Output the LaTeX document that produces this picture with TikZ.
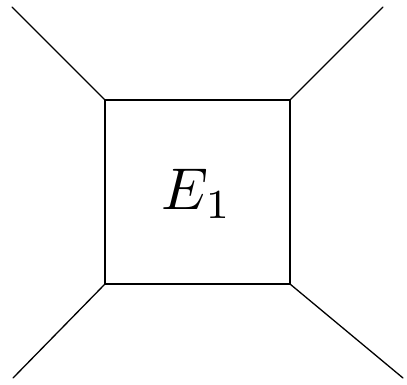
\documentclass[tikz,border=0pt]{standalone}
\begin{document}
\begin{tikzpicture}[x=1pt,y=-1pt,edge/.style={line width=1.3pt,line cap=round}]
\useasboundingbox (0,0) rectangle (407,384);
\coordinate (a) at (105,100);
\coordinate (b) at (290,100);
\coordinate (c) at (290,284);
\coordinate (d) at (105,284);
\coordinate (oa) at (12,7);
\coordinate (ob) at (383,7);
\coordinate (oc) at (403,378);
\coordinate (od) at (13,378);
\draw[edge] (a) -- (b) -- (c) -- (d) -- cycle;
\draw[edge] (a) -- (oa);
\draw[edge] (b) -- (ob);
\draw[edge] (c) -- (oc);
\draw[edge] (d) -- (od);
\node[inner sep=0pt,scale=5.9] (e) at (197,194) {$E_1$};
\end{tikzpicture}
\end{document}
